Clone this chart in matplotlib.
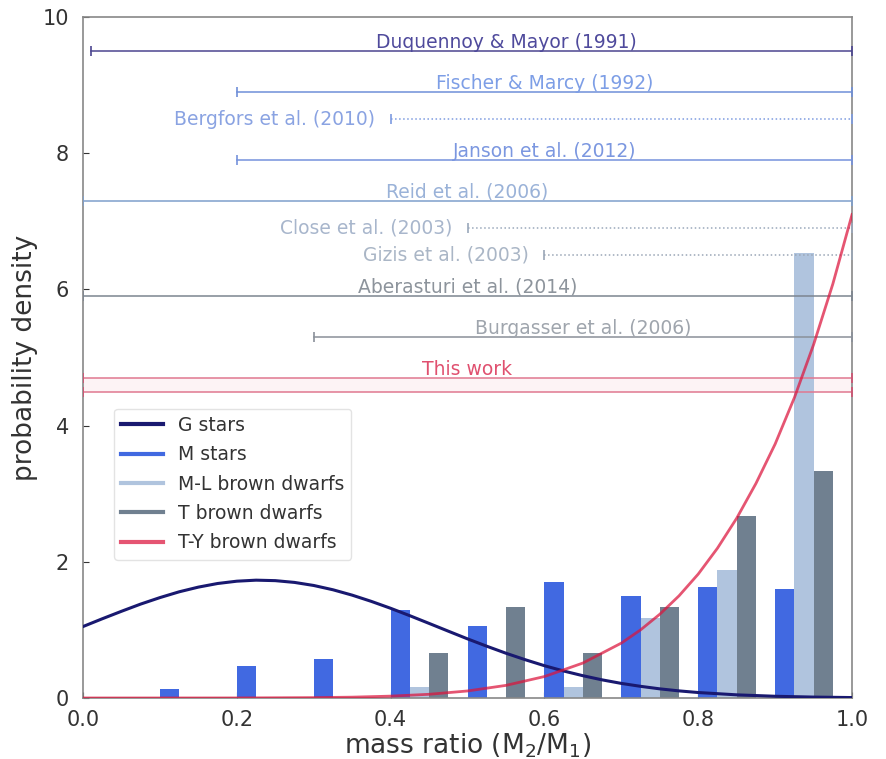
import numpy as np
import matplotlib
matplotlib.use('Agg')
from matplotlib import pyplot as plt

# histogram bins (left edges), width 0.1 in mass ratio
bin_left = [0.0, 0.1, 0.2, 0.3, 0.4, 0.5, 0.6, 0.7, 0.8, 0.9]
m_stars = [0.0, 0.13, 0.47, 0.57, 1.29, 1.06, 1.70, 1.50, 1.63, 1.60]
ml_dwarfs = [0.0, 0.0, 0.0, 0.0, 0.16, 0.0, 0.16, 1.17, 1.88, 6.53]
t_dwarfs = [0.0, 0.0, 0.0, 0.0, 0.667, 1.333, 0.667, 1.333, 2.667, 3.333]

# G stars density curve
g_q = [0.0, 0.025, 0.05, 0.075, 0.1, 0.125, 0.15, 0.175, 0.2, 0.225, 0.25,
       0.275, 0.3, 0.325, 0.35, 0.375, 0.4, 0.425, 0.45, 0.475, 0.5,
       0.525, 0.55, 0.575, 0.6, 0.625, 0.65, 0.675, 0.7, 0.725, 0.75,
       0.775, 0.8, 0.85, 0.9, 0.95, 1.0]
g_pdf = [1.049, 1.163, 1.273, 1.379, 1.474, 1.559, 1.628, 1.681, 1.715, 1.73, 1.723,
         1.697, 1.652, 1.589, 1.510, 1.418, 1.317, 1.208, 1.095, 0.981, 0.868,
         0.760, 0.657, 0.562, 0.474, 0.396, 0.327, 0.266, 0.214, 0.171, 0.134,
         0.104, 0.080, 0.046, 0.025, 0.013, 0.006]

# T-Y brown dwarfs density curve
ty_q = [0.0, 0.1, 0.2, 0.3, 0.35, 0.4, 0.45, 0.5, 0.55, 0.6, 0.65, 0.7,
        0.725, 0.75, 0.775, 0.8, 0.825, 0.85, 0.875, 0.9, 0.925, 0.95, 0.975, 1.0]
ty_pdf = [0.0, 0.0, 0.0004, 0.005, 0.012, 0.027, 0.054, 0.103, 0.185, 0.315, 0.513, 0.806,
          1.0, 1.23, 1.50, 1.82, 2.20, 2.64, 3.15, 3.73, 4.41, 5.19, 6.08, 7.1]

# surveys: mass ratio range covered and where it is drawn
surveys = ['Duquennoy & Mayor (1991)', 'Fischer & Marcy (1992)', 'Bergfors et al. (2010)',
           'Janson et al. (2012)', 'Reid et al. (2006)', 'Close et al. (2003)',
           'Gizis et al. (2003)', 'Aberasturi et al. (2014)', 'Burgasser et al. (2006)']
survey_qmin = [0.01, 0.2, 0.4, 0.2, 0.0, 0.5, 0.6, 0.0, 0.3]
survey_level = [9.5, 8.9, 8.5, 7.9, 7.3, 6.9, 6.5, 5.9, 5.3]
this_work_band = [4.5, 4.7]

survey_line_color = ['#4b4590', '#6f8fd8', '#7d9be0', '#7592dc', '#7f9fcc',
                     '#9aa8bb', '#9aa6b6', '#7c8590', '#8a9099']
survey_text_color = ['#4f4a9c', '#7d9ee6', '#8aa3e2', '#7b97e0', '#9ab2d8',
                     '#a8b6cc', '#aab6c6', '#8d949c', '#9fa5ad']
survey_style = ['-', '-', ':', '-', '-', ':', ':', '-', '-']
label_left = [False, False, True, False, False, True, True, False, False]
label_x = [0.55, 0.6, None, 0.6, 0.5, None, None, 0.5, 0.65]

fig = plt.figure(figsize=(8.86, 7.59), dpi=100)
ax = fig.add_axes([0.0937, 0.0804, 0.868, 0.8972])

w = 0.025
left = np.array(bin_left)
ax.bar(left, m_stars, width=w, align='edge', color='royalblue', zorder=2)
ax.bar(left + w, ml_dwarfs, width=w, align='edge', color='lightsteelblue', zorder=2)
ax.bar(left + 2 * w, t_dwarfs, width=w, align='edge', color='slategray', zorder=2)

ax.plot(g_q, g_pdf, color='midnightblue', lw=2.2, zorder=4, label='G stars')
ax.plot([], [], color='royalblue', lw=2.2, label='M stars')
ax.plot([], [], color='lightsteelblue', lw=2.2, label='M-L brown dwarfs')
ax.plot([], [], color='slategray', lw=2.2, label='T brown dwarfs')
ax.plot(ty_q, ty_pdf, color='crimson', alpha=0.72, lw=2.0, zorder=4, label='T-Y brown dwarfs')

for i, name in enumerate(surveys):
    q0 = survey_qmin[i]
    lev = survey_level[i]
    ax.plot([q0, 1.0], [lev, lev], color=survey_line_color[i], lw=1.1,
            ls=survey_style[i], zorder=3)
    ax.plot([q0, 1.0], [lev, lev], ls='none', marker='|', ms=7, mew=1.2,
            color=survey_line_color[i], zorder=3)
    if label_left[i]:
        ax.text(q0 - 0.02, lev, name, ha='right', va='center', fontsize=13.5,
                color=survey_text_color[i])
    else:
        ax.text(label_x[i], lev + 0.05, name, ha='center', va='baseline',
                fontsize=13.5, color=survey_text_color[i])

# this work: band between two lines
ax.fill_between([0.0, 1.0], this_work_band[0], this_work_band[1], color='crimson',
                alpha=0.05, lw=0, zorder=1)
for lev in this_work_band:
    ax.plot([0.0, 1.0], [lev, lev], color='#e07890', lw=1.1, zorder=3)
    ax.plot([0.0, 1.0], [lev, lev], ls='none', marker='|', ms=7, mew=1.2,
            color='#d05070', zorder=3)
ax.text(0.5, this_work_band[1] + 0.05, 'This work', ha='center', va='baseline',
        fontsize=13.5, color='#e0506f')

ax.set_xlim(0, 1)
ax.set_ylim(0, 10)
ax.set_xticks([0.0, 0.2, 0.4, 0.6, 0.8, 1.0])
ax.set_yticks([0, 2, 4, 6, 8, 10])
ax.tick_params(direction='in', labelsize=15, colors='#333333', length=4)
ax.tick_params(axis='x', pad=9)
ax.tick_params(axis='y', pad=10)
for s in ax.spines.values():
    s.set_color('#888888')
    s.set_linewidth(1.2)
ax.set_xlabel('mass ratio (M$_2$/M$_1$)', fontsize=19, color='#333333', labelpad=1)
ax.set_ylabel('probability density', fontsize=19, color='#333333', labelpad=3)

leg = ax.legend(loc='upper left', bbox_to_anchor=(0.04, 0.425), fontsize=13.5,
                handlelength=2.2, frameon=True, borderaxespad=0, labelspacing=0.55)
leg.get_frame().set_edgecolor('#dddddd')
for t in leg.get_texts():
    t.set_color('#333333')
for h in leg.get_lines():
    h.set_linewidth(3)

fig.savefig('out.png', dpi=100)
